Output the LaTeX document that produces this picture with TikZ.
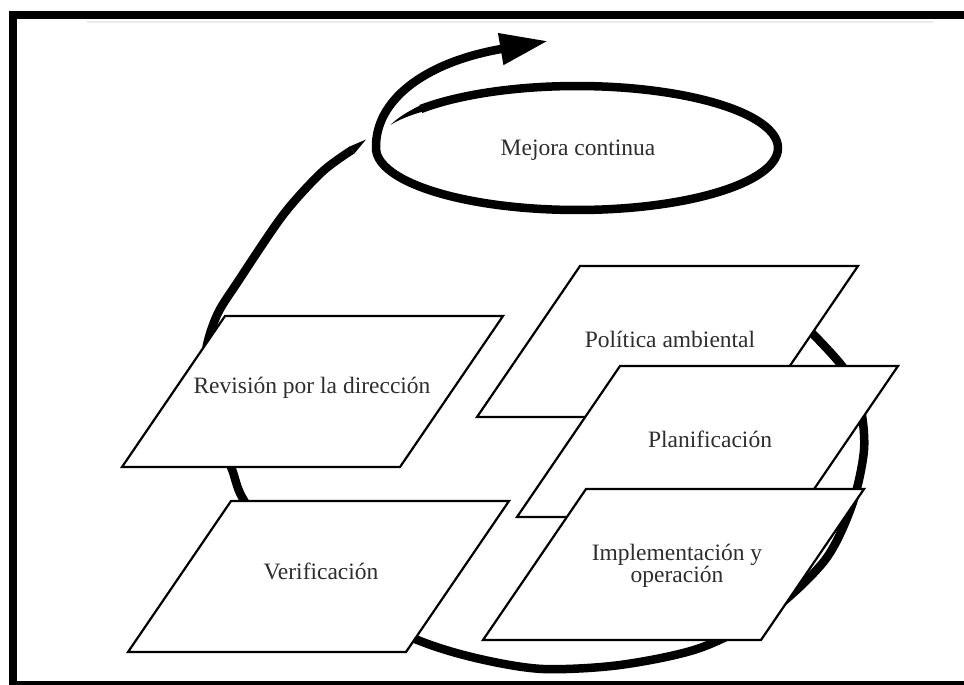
\documentclass[tikz,border=0pt]{standalone}
\usepackage{fontspec}
\setmainfont{Liberation Serif}
\usetikzlibrary{arrows.meta}
\newcommand{\pgram}[2]{%
  \filldraw[pgramsty] (#1,#2) -- ++(278,0) -- ++(103,-151) -- ++(-278,0) -- cycle;}
\begin{document}
\begin{tikzpicture}[x=1pt,y=-1pt,
  pgramsty/.style={draw=black,fill=white,line width=2.2pt,line join=miter},
  lbl/.style={font=\fontsize{23.5}{21}\selectfont,text=black!82,align=center,inner sep=0pt},
  loopline/.style={line width=8.5pt}]
\useasboundingbox (0,0) rectangle (964,685);
\clip (0,0) rectangle (964,685);
\fill[white] (0,0) rectangle (964,685);
% frame
\draw[line width=8pt] (12.5,15.5) rectangle (1000,685);
\draw[black!8,line width=2pt] (87,22.5) -- (933,22.5);
% big cycle
\fill (366,139.5) -- (354.5,153.4) -- (349.5,146.6) -- cycle;
\draw[loopline] plot[smooth] coordinates {(352,150) (322,172) (283,215) (237,283) (218,313) (207,345) (203,385) (212,430) (231,467) (242,497) (275,545) (330,600) (420,641) (480,659) (543,669) (620,665) (700,648) (770,612) (825,560) (852,505) (864,450) (860,405) (845,370) (812,333) (785,308)};
% mejora continua spiral
\fill plot[domain=139:158,samples=20] ({577+(201+4.2*(158-\x)/19)*cos(\x)},{148-(62+4.2*(158-\x)/19)*sin(\x)})
  -- plot[domain=158:139,samples=20] ({577+(201-4.2*(158-\x)/19)*cos(\x)},{148-(62-4.2*(158-\x)/19)*sin(\x)}) -- cycle;
\draw[loopline,-{Triangle[length=48pt,width=30pt]}] plot[domain=141:-180,samples=130] ({577+201*cos(\x)},{148-62*sin(\x)}) .. controls (375,100) and (425,62) .. (548,41);
\node[lbl] (mejora) at (578,150) {Mejora continua};
% boxes
\pgram{122}{467}
\node[lbl] (rev) at (312,388) {Revisión por la dirección};
\pgram{128}{652}
\node[lbl] (ver) at (321,571) {Verificación};
\pgram{477}{417}
\node[lbl] (pol) at (670,339) {Política ambiental};
\pgram{517}{517}
\node[lbl] (plan) at (710,439) {Planificación};
\pgram{483}{640}
\node[lbl] (impl) at (677,566) {Implementación y\\operación};
\end{tikzpicture}
\end{document}
